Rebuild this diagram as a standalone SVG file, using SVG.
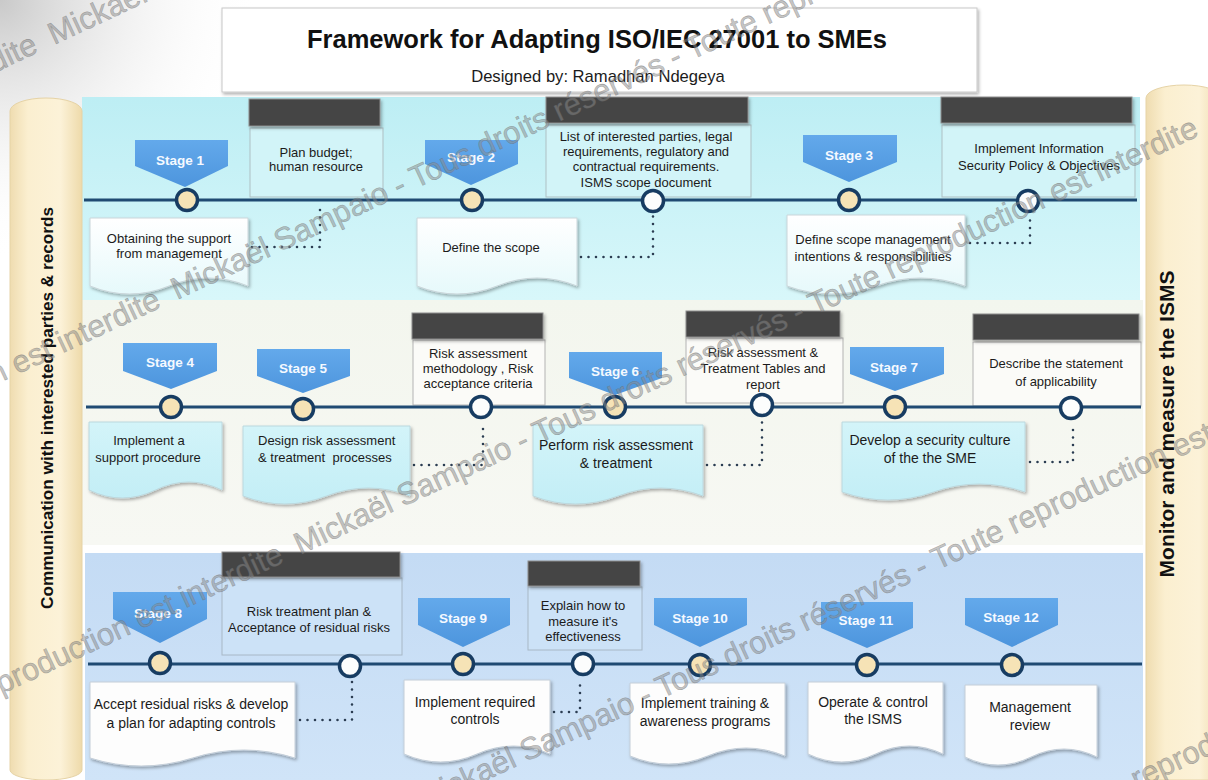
<svg xmlns="http://www.w3.org/2000/svg" width="1208" height="780" viewBox="0 0 1208 780">
  <defs>
    <linearGradient id="gBand1" x1="0" y1="0" x2="0" y2="1">
      <stop offset="0" stop-color="#bdeef4"/>
      <stop offset="1" stop-color="#d8f7fa"/>
    </linearGradient>
    <linearGradient id="gBand2" x1="0" y1="0" x2="0" y2="1">
      <stop offset="0" stop-color="#f3f6ee"/>
      <stop offset="1" stop-color="#f7f8f3"/>
    </linearGradient>
    <linearGradient id="gBand3" x1="0" y1="0" x2="0" y2="1">
      <stop offset="0" stop-color="#c4dbf4"/>
      <stop offset="1" stop-color="#d0e4f8"/>
    </linearGradient>
    <linearGradient id="gPillar" x1="0" y1="0" x2="1" y2="0">
      <stop offset="0" stop-color="#efdcb0"/>
      <stop offset="0.25" stop-color="#fbefd0"/>
      <stop offset="0.7" stop-color="#fcf2d8"/>
      <stop offset="1" stop-color="#eedaaa"/>
    </linearGradient>
    <linearGradient id="gStage" x1="0" y1="0" x2="0" y2="1">
      <stop offset="0" stop-color="#63a9eb"/>
      <stop offset="1" stop-color="#4d95dd"/>
    </linearGradient>
    <linearGradient id="gDoc1" x1="0" y1="0" x2="0" y2="1">
      <stop offset="0" stop-color="#ffffff"/>
      <stop offset="1" stop-color="#e6f9fb"/>
    </linearGradient>
    <linearGradient id="gDoc2" x1="0" y1="0" x2="0" y2="1">
      <stop offset="0" stop-color="#d3f4f9"/>
      <stop offset="1" stop-color="#c3eef6"/>
    </linearGradient>
    <radialGradient id="gCorner" gradientUnits="userSpaceOnUse" cx="0" cy="0" r="260">
      <stop offset="0" stop-color="#c9c9c9" stop-opacity="1"/>
      <stop offset="1" stop-color="#ffffff" stop-opacity="0"/>
    </radialGradient>
    <filter id="sh" x="-10%" y="-10%" width="130%" height="140%">
      <feDropShadow dx="1.5" dy="2" stdDeviation="1.5" flood-color="#000" flood-opacity="0.3"/>
    </filter>
    <style>
      .lbl{font-family:'Liberation Sans',Arial,sans-serif;font-size:13px;fill:#1b1b1b;text-anchor:middle}
      .l14{font-size:14px}
      .lft{text-anchor:start}
      .stxt{font-family:'Liberation Sans',Arial,sans-serif;font-size:13.5px;font-weight:bold;fill:#f5f9ff;text-anchor:middle}
      .stage{fill:url(#gStage)}
      .tl{stroke:#1f4a72;stroke-width:3;fill:none}
      .ms{fill:#f6e3b6;stroke:#173c62;stroke-width:3.5}
      .mi{fill:#fcfdfd;stroke:#173c62;stroke-width:3.5}
      .dot{fill:none;stroke:#2b3d52;stroke-width:2.6;stroke-linecap:round;stroke-dasharray:0 7.5}
      .hdr{fill:#454545;stroke:#8d8d8d;stroke-width:1;filter:url(#sh)}
      .box1{fill:#d2f4f8;stroke:#aebfc3}
      .box2{fill:#fbfbf8;stroke:#b3b3b3}
      .box3{fill:#cce2f7;stroke:#a8b8c6}
      .doc1{fill:url(#gDoc1);stroke:#cad6da;filter:url(#sh)}
      .doc2{fill:url(#gDoc2);stroke:#bcd8de;filter:url(#sh)}
      .doc3{fill:#fdfdfd;stroke:#c4ced8;filter:url(#sh)}
      .pillar{fill:url(#gPillar);stroke:#e6d3a6;stroke-width:1}
      .ptxt{font-family:'Liberation Sans',Arial,sans-serif;font-weight:bold;fill:#111;text-anchor:middle}
      .wm{font-family:'Liberation Sans',Arial,sans-serif;font-size:31px;fill:#8b8b8b;fill-opacity:.5;stroke:#666;stroke-width:.5;stroke-opacity:.5}
    </style>
  </defs>

  <!-- page -->
  <rect x="0" y="0" width="1208" height="780" fill="#ffffff"/>
  <rect x="0" y="0" width="300" height="300" fill="url(#gCorner)"/>

  <!-- phase bands -->
  <rect x="82" y="97" width="1058" height="203" fill="url(#gBand1)"/>
  <rect x="82" y="300" width="1061" height="245" fill="url(#gBand2)"/>
  <rect x="85" y="553" width="1058" height="227" fill="url(#gBand3)"/>

  <!-- side pillars -->
  <g id="pillar-communication">
    <path class="pillar" d="M10,111 A36,13 0 0 1 82,111 V770 A36,10 0 0 1 10,770 Z"/>
    <text class="ptxt" font-size="17.2" transform="translate(53,408) rotate(-90)">Communication with interested parties  &amp; records</text>
  </g>
  <g id="pillar-monitor">
    <path class="pillar" d="M1146,98 A38,13 0 0 1 1222,98 V780 H1146 Z"/>
    <text class="ptxt" font-size="21" transform="translate(1174,424) rotate(-90)">Monitor and measure the ISMS</text>
  </g>

  <!-- title -->
  <g id="title">
    <rect x="222" y="8" width="755" height="84" fill="#ffffff" stroke="#c8c8c8" filter="url(#sh)"/>
    <text x="597" y="48" font-family="'Liberation Sans',Arial,sans-serif" font-size="25.5" font-weight="bold" fill="#111" text-anchor="middle">Framework for Adapting ISO/IEC 27001 to SMEs</text>
    <text x="598" y="82" font-family="'Liberation Sans',Arial,sans-serif" font-size="16.6" fill="#1b1b1b" text-anchor="middle">Designed by: Ramadhan Ndegeya</text>
  </g>

  <!-- deliverable boxes (dark header + note) -->
  <g id="out-budget">
    <rect class="box1" x="250" y="128" width="133" height="69"/>
    <rect class="hdr" x="249" y="99" width="131" height="27"/>
    <text class="lbl" x="316" y="157">Plan budget;</text>
    <text class="lbl" x="316" y="171">human resource</text>
  </g>
  <g id="out-scope">
    <rect class="box1" x="546" y="125" width="205" height="72"/>
    <rect class="hdr" x="546" y="97" width="202" height="26"/>
    <text class="lbl" x="646" y="141">List of interested parties, legal</text>
    <text class="lbl" x="646" y="156">requirements, regulatory and</text>
    <text class="lbl" x="646" y="171">contractual requirements.</text>
    <text class="lbl" x="646" y="187">ISMS scope document</text>
  </g>
  <g id="out-policy">
    <rect class="box1" x="942" y="125" width="193" height="72"/>
    <rect class="hdr" x="941" y="97" width="191" height="26"/>
    <text class="lbl" x="1039" y="153">Implement Information</text>
    <text class="lbl" x="1039" y="170">Security Policy &amp; Objectives</text>
  </g>
  <g id="out-methodology">
    <rect class="box2" x="413" y="340" width="132" height="65"/>
    <rect class="hdr" x="412" y="313" width="131" height="26"/>
    <text class="lbl" x="478" y="358">Risk assessment</text>
    <text class="lbl" x="478" y="373">methodology , Risk</text>
    <text class="lbl" x="478" y="388">acceptance criteria</text>
  </g>
  <g id="out-tables">
    <rect class="box2" x="686" y="338" width="157" height="65"/>
    <rect class="hdr" x="686" y="311" width="154" height="26"/>
    <text class="lbl" x="763" y="357">Risk assessment &amp;</text>
    <text class="lbl" x="763" y="373">Treatment Tables and</text>
    <text class="lbl" x="763" y="389">report</text>
  </g>
  <g id="out-soa">
    <rect class="box2" x="973" y="342" width="168" height="64"/>
    <rect class="hdr" x="973" y="314" width="166" height="26"/>
    <text class="lbl" x="1056" y="368">Describe the statement</text>
    <text class="lbl" x="1056" y="386">of applicability</text>
  </g>
  <g id="out-treatment-plan">
    <rect class="box3" x="222" y="578" width="180" height="77"/>
    <rect class="hdr" x="222" y="552" width="178" height="25"/>
    <text class="lbl" x="309" y="616">Risk treatment plan &amp;</text>
    <text class="lbl" x="309" y="632">Acceptance of residual risks</text>
  </g>
  <g id="out-effectiveness">
    <rect class="box3" x="528" y="587" width="114" height="63"/>
    <rect class="hdr" x="528" y="561" width="112" height="25"/>
    <text class="lbl" x="583" y="610">Explain how to</text>
    <text class="lbl" x="583" y="626">measure it's</text>
    <text class="lbl" x="583" y="641">effectiveness</text>
  </g>

  <!-- timelines and dotted links -->
  <g id="connectors">
    <line class="tl" x1="84" y1="200" x2="1137" y2="200"/>
    <line class="tl" x1="86" y1="407" x2="1141" y2="407"/>
    <line class="tl" x1="88" y1="664" x2="1142" y2="664"/>
    <path class="dot" d="M252,247 H320 V209"/>
    <path class="dot" d="M581,257 H653 V216"/>
    <path class="dot" d="M970,243 H1030 V216"/>
    <path class="dot" d="M414,465 H483 V422"/>
    <path class="dot" d="M707,465 H762 V420"/>
    <path class="dot" d="M1030,462 H1073 V423"/>
    <path class="dot" d="M300,720 H352 V681"/>
    <path class="dot" d="M554,712 H580 V679"/>
  </g>

  <!-- activity documents -->
  <g id="doc-1"><path class="doc1" d="M90,218 H248 V286 Q208.5,270 169,286 T90,286 Z"/>
    <text class="lbl" x="169" y="243">Obtaining the support</text>
    <text class="lbl" x="169" y="258">from management</text></g>
  <g id="doc-2"><path class="doc1" d="M417,218 H577 V286 Q537,270 497,286 T417,286 Z"/>
    <text class="lbl" x="491" y="252">Define the scope</text></g>
  <g id="doc-3"><path class="doc1" d="M787,215 H965 V286 Q920.5,270 876,286 T787,286 Z"/>
    <text class="lbl" x="873" y="244">Define scope management</text>
    <text class="lbl" x="873" y="261">intentions &amp; responsibilities</text></g>
  <g id="doc-4"><path class="doc2" d="M89,422 H222 V490 Q188.75,474 155.5,490 T89,490 Z"/>
    <text class="lbl" x="149" y="445">Implement a</text>
    <text class="lbl" x="148" y="462">support procedure</text></g>
  <g id="doc-5"><path class="doc2" d="M243,426 H410 V496 Q368.25,480 326.5,496 T243,496 Z"/>
    <text class="lbl lft" x="258" y="445">Design risk assessment</text>
    <text class="lbl lft" x="258" y="462" xml:space="preserve">&amp; treatment  processes</text></g>
  <g id="doc-6"><path class="doc2" d="M533,425 H703 V496 Q660.5,480 618,496 T533,496 Z"/>
    <text class="lbl l14" x="616" y="450">Perform risk assessment</text>
    <text class="lbl l14" x="616" y="468">&amp; treatment</text></g>
  <g id="doc-7"><path class="doc2" d="M842,422 H1025 V492 Q979.25,476 933.5,492 T842,492 Z"/>
    <text class="lbl l14" x="930" y="445">Develop a security culture</text>
    <text class="lbl l14" x="930" y="463">of the the SME</text></g>
  <g id="doc-8"><path class="doc3" d="M90,682 H295 V758 Q243.75,742 192.5,758 T90,758 Z"/>
    <text class="lbl l14" x="191" y="709">Accept residual risks &amp; develop</text>
    <text class="lbl l14" x="191" y="728">a plan for adapting controls</text></g>
  <g id="doc-9"><path class="doc3" d="M404,680 H550 V754 Q513.5,738 477,754 T404,754 Z"/>
    <text class="lbl l14" x="475" y="707">Implement required</text>
    <text class="lbl l14" x="475" y="724">controls</text></g>
  <g id="doc-10"><path class="doc3" d="M630,683 H785 V756 Q746.25,740 707.5,756 T630,756 Z"/>
    <text class="lbl l14" x="705" y="708">Implement training &amp;</text>
    <text class="lbl l14" x="705" y="726">awareness programs</text></g>
  <g id="doc-11"><path class="doc3" d="M808,682 H943 V754 Q909.25,738 875.5,754 T808,754 Z"/>
    <text class="lbl l14" x="873" y="707">Operate &amp; control</text>
    <text class="lbl l14" x="873" y="724">the ISMS</text></g>
  <g id="doc-12"><path class="doc3" d="M965,685 H1097 V757 Q1064,741 1031,757 T965,757 Z"/>
    <text class="lbl l14" x="1030" y="712">Management</text>
    <text class="lbl l14" x="1030" y="730">review</text></g>

  <!-- stage flags with their milestones -->
  <g id="stage-1"><path class="stage" d="M135,140 H228 V166 L185,187 L135,166 Z"/><text class="stxt" x="180" y="165">Stage 1</text><circle class="ms" cx="187" cy="200" r="10.5"/></g>
  <g id="stage-2"><path class="stage" d="M425,140 H518 V164 L471,185 L425,164 Z"/><text class="stxt" x="471" y="162">Stage 2</text><circle class="ms" cx="472" cy="200" r="10.5"/></g>
  <g id="stage-3"><path class="stage" d="M803,135 H897 V162 L849,182 L803,162 Z"/><text class="stxt" x="849" y="160">Stage 3</text><circle class="ms" cx="849" cy="200" r="10.5"/></g>
  <g id="stage-4"><path class="stage" d="M123,343 H217 V371 L171,389 L123,371 Z"/><text class="stxt" x="170" y="367">Stage 4</text><circle class="ms" cx="171" cy="407" r="10.5"/></g>
  <g id="stage-5"><path class="stage" d="M257,349 H350 V376 L303,393 L257,376 Z"/><text class="stxt" x="303" y="373">Stage 5</text><circle class="ms" cx="303" cy="409" r="10.5"/></g>
  <g id="stage-6"><path class="stage" d="M569,352 H662 V378 L615,395 L569,378 Z"/><text class="stxt" x="615" y="376">Stage 6</text><circle class="ms" cx="615" cy="407" r="10.5"/></g>
  <g id="stage-7"><path class="stage" d="M850,347 H944 V374 L895,391 L850,374 Z"/><text class="stxt" x="894" y="372">Stage 7</text><circle class="ms" cx="895" cy="407" r="10.5"/></g>
  <g id="stage-8"><path class="stage" d="M113,592 H207 V619 L160,643 L113,619 Z"/><text class="stxt" x="158" y="618">Stage 8</text><circle class="ms" cx="160" cy="663" r="10.5"/></g>
  <g id="stage-9"><path class="stage" d="M418,598 H510 V625 L463,647 L418,625 Z"/><text class="stxt" x="463" y="623">Stage 9</text><circle class="ms" cx="463" cy="664" r="10.5"/></g>
  <g id="stage-10"><path class="stage" d="M654,598 H747 V625 L700,647 L654,625 Z"/><text class="stxt" x="700" y="623">Stage 10</text><circle class="ms" cx="700" cy="665" r="10.5"/></g>
  <g id="stage-11"><path class="stage" d="M821,602 H913 V628 L867,648 L821,628 Z"/><text class="stxt" x="866" y="625">Stage 11</text><circle class="ms" cx="867" cy="665" r="10.5"/></g>
  <g id="stage-12"><path class="stage" d="M965,598 H1058 V625 L1012,647 L965,625 Z"/><text class="stxt" x="1011" y="622">Stage 12</text><circle class="ms" cx="1012" cy="665" r="10.5"/></g>

  <!-- output milestones on the timelines -->
  <g id="milestones-out">
    <circle class="mi" cx="653" cy="201" r="10.5"/>
    <circle class="mi" cx="1028" cy="201" r="10.5"/>
    <circle class="mi" cx="481" cy="407" r="10.5"/>
    <circle class="mi" cx="762" cy="405" r="10.5"/>
    <circle class="mi" cx="1071" cy="408" r="10.5"/>
    <circle class="mi" cx="350" cy="666" r="10.5"/>
    <circle class="mi" cx="583" cy="664" r="10.5"/>
  </g>

  <!-- copyright watermark -->
  <g id="watermark" class="wm">
    <g transform="translate(54,45) rotate(-25)">
      <text x="0">Mickaël Sampaio - Tous droits réservés - Toute reproduction est interdite</text>
      <text x="-16" text-anchor="end">Mickaël Sampaio - Tous droits réservés - Toute reproduction est interdite</text>
    </g>
    <g transform="translate(177,300) rotate(-25)">
      <text x="0">Mickaël Sampaio - Tous droits réservés - Toute reproduction est interdite</text>
      <text x="-16" text-anchor="end">Mickaël Sampaio - Tous droits réservés - Toute reproduction est interdite</text>
    </g>
    <g transform="translate(300,555) rotate(-25)">
      <text x="0">Mickaël Sampaio - Tous droits réservés - Toute reproduction est interdite</text>
      <text x="-16" text-anchor="end">Mickaël Sampaio - Tous droits réservés - Toute reproduction est interdite</text>
    </g>
    <g transform="translate(423,810) rotate(-25)">
      <text x="0">Mickaël Sampaio - Tous droits réservés - Toute reproduction est interdite</text>
    </g>
    <g transform="translate(546,1065) rotate(-25)">
      <text x="0">Mickaël Sampaio - Tous droits réservés - Toute reproduction est interdite</text>
    </g>
  </g>
</svg>
